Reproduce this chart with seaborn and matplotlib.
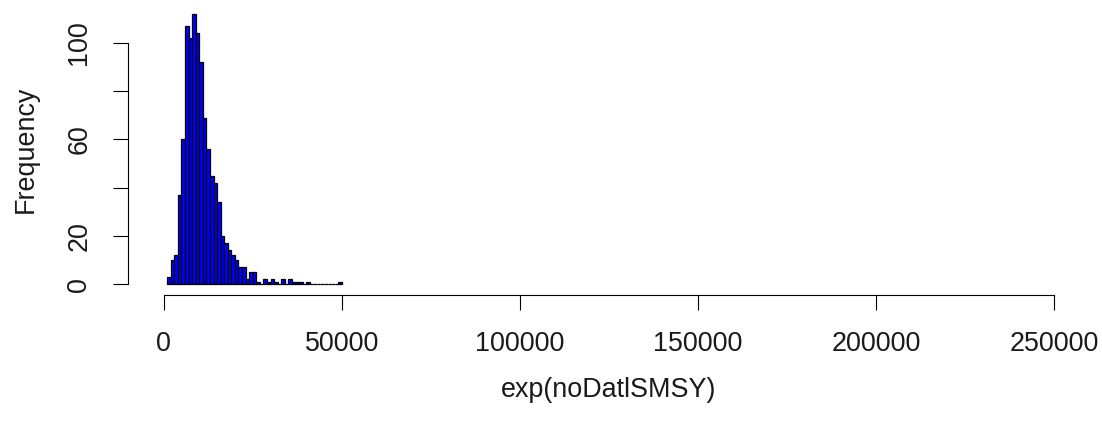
import numpy as np
import pandas as pd
import matplotlib
matplotlib.use("Agg")
import matplotlib.pyplot as plt
import seaborn as sns

# Histogram counts for bins of width 1000, starting at 1000
counts = [3, 10, 12, 37, 60, 107, 102, 112, 104, 92,
          69, 56, 45, 42, 34, 20, 17, 14, 12, 10,
          7, 7, 2, 5, 5, 1, 0, 2, 1, 2,
          1, 0, 2, 0, 2, 1, 1, 1, 0, 1,
          0, 0, 0, 0, 0, 0, 0, 0, 1]
first_break = 1000
bin_width = 1000

x_ticks = [0, 50000, 100000, 150000, 200000, 250000]
x_tick_labels = ["0", "50000", "100000", "150000", "200000", "250000"]
y_ticks = [0, 20, 40, 60, 80, 100]
y_tick_labels = ["0", "20", "", "60", "", "100"]

last_break = first_break + bin_width * len(counts)
mids = first_break + bin_width * (np.arange(len(counts)) + 0.5)
df = pd.DataFrame({"value": mids, "count": counts})

sns.set_style("white")
plt.rcParams["font.family"] = ["Liberation Sans", "DejaVu Sans"]

W, H = 1102, 421
fig = plt.figure(figsize=(W / 100, H / 100), dpi=100)
left, right, top, bottom = 128, 1090, 3, 295
ax = fig.add_axes([left / W, 1 - bottom / H, (right - left) / W, (bottom - top) / H])

sns.histplot(data=df, x="value", weights="count", binwidth=bin_width,
             binrange=(first_break, last_break), stat="count",
             color="#0000FF", alpha=1, edgecolor="black", linewidth=0.9, ax=ax)

ax.set_xlim(-10000, 260000)
ax.set_ylim(-4.48, 116.48)

for s in ("top", "right"):
    ax.spines[s].set_visible(False)
for s in ("left", "bottom"):
    ax.spines[s].set_color("black")
    ax.spines[s].set_linewidth(0.8)
ax.spines["left"].set_bounds(0, 100)
ax.spines["bottom"].set_bounds(0, 250000)

fs = 19.4
txt_color = "#1a1a1a"
ax.set_xticks(x_ticks)
ax.set_xticklabels(x_tick_labels)
ax.set_yticks(y_ticks)
ax.set_yticklabels(y_tick_labels, rotation=90, va="center")
ax.tick_params(axis="both", which="major", bottom=True, left=True,
               direction="out", length=10.8, width=0.8,
               color="black", labelsize=fs, labelcolor=txt_color)
ax.tick_params(axis="x", pad=15)
ax.tick_params(axis="y", pad=15)

ax.set_xlabel("exp(noDatlSMSY)", fontsize=fs, color=txt_color)
ax.set_ylabel("Frequency", fontsize=fs, color=txt_color)
ax.xaxis.set_label_coords(0.5, -(377 - bottom) / (bottom - top))
ax.yaxis.set_label_coords((38.5 - left) / (right - left), 0.5)
ax.grid(False)

fig.savefig("out.png", dpi=100)
